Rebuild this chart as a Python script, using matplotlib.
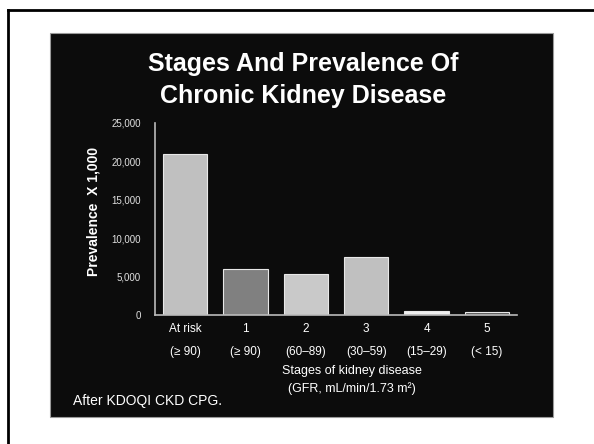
import matplotlib.pyplot as plt
from matplotlib.patches import Rectangle
from matplotlib.lines import Line2D

# data
stages = ['At risk', '1', '2', '3', '4', '5']
gfr = ['(\u2265 90)', '(\u2265 90)', '(60\u201389)', '(30\u201359)', '(15\u201329)', '(< 15)']
prevalence = [20900, 5950, 5300, 7600, 500, 400]
bar_colors = ['#c0c0c0', '#808080', '#c9c9c9', '#c0c0c0', '#f0f0f0', '#5a5a5a']
yticks = [0, 5000, 10000, 15000, 20000, 25000]

plt.rcParams['font.family'] = ['Liberation Sans', 'DejaVu Sans']

W, H = 594, 444
fig = plt.figure(figsize=(W / 100, H / 100), dpi=100, facecolor='white')

# outer frame (runs off the right and bottom edges)
fig.add_artist(Line2D([8 / W, 8 / W], [0, 1 - 10 / H], transform=fig.transFigure, color='black', lw=2))
fig.add_artist(Line2D([8 / W, 1], [1 - 10 / H, 1 - 10 / H], transform=fig.transFigure, color='black', lw=2))

# black slide panel, behind the axes
fig.add_artist(Rectangle((50 / W, 1 - 417 / H), 503 / W, 384 / H, transform=fig.transFigure,
                         facecolor='#0c0c0c', edgecolor='#9a9a9a', lw=0.8, zorder=-10))

fig.text(303 / W, 1 - 80 / H, 'Stages And Prevalence Of\nChronic Kidney Disease', ha='center', va='center',
         color='white', fontsize=18, fontweight='bold', linespacing=1.45)

ax = fig.add_axes([155 / W, 1 - 315 / H, 362 / W, 192 / H])
ax.set_facecolor('none')
x = range(len(stages))
ax.bar(x, prevalence, width=0.73, color=bar_colors, edgecolor='#e8e8e8', linewidth=0.8)
ax.set_xlim(-0.5, 5.5)
ax.set_ylim(0, 25000)
ax.set_yticks(yticks)
ax.set_yticklabels([f'{v:,}' for v in yticks], color='#e0e0e0', fontsize=7)
ax.set_xticks(list(x))
ax.set_xticklabels([f'{s}\n{g}' for s, g in zip(stages, gfr)], color='white', fontsize=8.5,
                   linespacing=2.2, va='top')
ax.tick_params(axis='y', length=0, pad=10)
ax.tick_params(axis='x', length=0, pad=6)
for side in ['top', 'right']:
    ax.spines[side].set_visible(False)
ax.spines['left'].set_color('#bbbbbb')
ax.spines['bottom'].set_color('#bbbbbb')
ax.spines['left'].set_linewidth(1.2)
ax.spines['bottom'].set_linewidth(1.2)
ax.set_ylabel('Prevalence  X 1,000', color='white', fontsize=10, fontweight='bold')
ax.yaxis.set_label_coords(-0.15, 0.54)

fig.text(352 / W, 1 - 380 / H, 'Stages of kidney disease\n(GFR, mL/min/1.73 m\u00b2)', ha='center', va='center',
         color='white', fontsize=9, linespacing=1.5)
fig.text(73 / W, 1 - 401 / H, 'After KDOQI CKD CPG.', ha='left', va='center', color='white', fontsize=10)

fig.savefig('out.png', dpi=100, facecolor='white')
